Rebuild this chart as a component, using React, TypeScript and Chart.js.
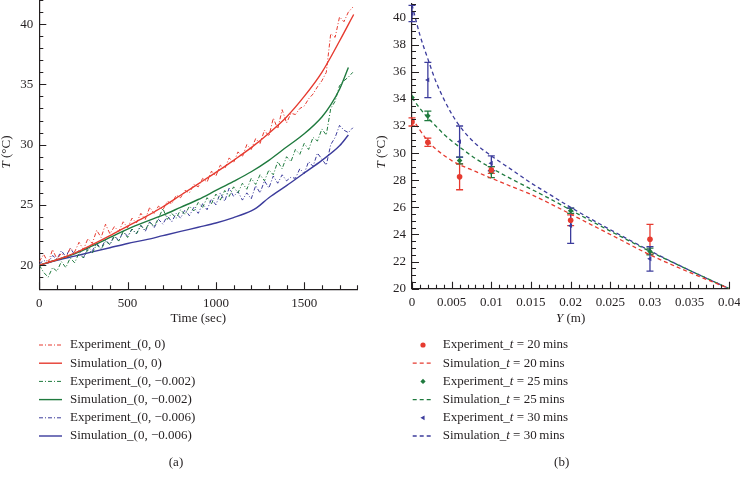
import React, { useEffect, useRef } from "react";
import { Chart, registerables } from "chart.js";

Chart.register(...registerables);

const RED = "#e63b30";
const GREEN = "#1f7a3e";
const BLUE = "#3c3c9c";
const INK = "#231f20";
const FONT = "'Liberation Serif', 'Times New Roman', serif";

// ---------- Panel (a) ----------
const expTime = [0,25,50,75,100,125,150,175,200,225,250,275,300,325,350,375,400,425,450,475,500,525,550,575,600,625,650,675,700,725,750,775,800,825,850,875,900,925,950,975,1000,1025,1050,1075,1100,1125,1150,1175,1200,1225,1250,1275,1300,1325,1350,1375,1400,1425,1450,1475,1500,1525,1550,1575,1600,1625,1650,1675,1700,1725,1750,1775];
const expA_00 = [20.3,20.9,20.2,21.3,20.5,21.0,20.6,21.4,21.1,21.9,21.3,22.2,21.8,22.9,22.3,23.4,22.6,23.2,22.8,23.6,23.1,23.9,23.5,24.3,23.8,24.8,24.3,24.9,24.6,25.3,25.1,25.8,25.6,26.2,26.0,26.7,26.5,27.2,26.9,27.8,27.4,28.3,28.0,28.9,28.5,29.4,29.0,30.0,29.6,30.5,30.1,31.2,30.7,32.2,31.3,32.9,31.8,32.6,32.5,33.0,33.2,33.8,34.2,34.8,35.3,36.0,39.2,38.9,40.6,40.2,41.0,41.4];
const expA_002 = [20.0,19.4,19.0,19.8,19.5,20.3,19.8,20.6,20.2,21.0,20.6,21.3,21.0,21.7,21.3,22.0,21.7,22.4,22.0,22.8,22.3,23.0,22.6,23.3,22.9,23.6,23.2,23.9,24.7,23.8,24.3,23.9,24.6,24.2,24.9,24.5,25.2,24.8,25.6,25.1,25.9,25.4,26.2,25.7,26.5,26.0,26.8,26.3,27.2,26.7,27.5,27.0,27.9,27.5,28.6,28.0,29.0,28.6,29.6,29.2,30.1,29.6,30.6,30.3,31.3,30.8,33.0,33.6,34.9,35.3,35.6,36.0];
const expA_006 = [20.1,20.4,20.2,20.8,20.5,21.2,20.7,21.4,20.9,21.2,20.6,21.5,21.2,21.8,21.4,22.1,21.7,22.5,22.0,22.8,22.4,23.0,22.6,23.3,22.8,23.6,23.1,23.8,23.4,24.1,23.6,24.3,23.9,24.6,24.1,24.8,24.3,25.1,24.6,25.5,25.0,26.0,25.3,26.4,25.7,26.1,25.4,26.0,25.5,26.6,26.0,27.0,26.4,27.4,26.8,27.5,27.0,27.3,27.2,28.0,27.6,28.6,28.2,29.3,28.8,28.3,30.0,30.6,31.6,31.2,31.0,31.4];

const simTimeA_00 = [0,100,200,300,400,500,600,700,800,900,1000,1100,1200,1300,1400,1500,1600,1700,1780];
const simA_00 = [20.0,20.45,21.0,21.7,22.45,23.25,24.0,24.85,25.8,26.75,27.7,28.7,29.75,30.95,32.3,34.0,36.0,38.6,40.8];
const simTimeA_002 = [0,100,200,300,400,500,600,700,800,900,1000,1100,1200,1300,1400,1500,1600,1650,1700,1750];
const simA_002 = [20.0,20.45,20.95,21.6,22.3,23.0,23.6,24.15,24.8,25.45,26.2,26.95,27.75,28.7,29.8,30.9,32.3,33.3,34.6,36.4];
const simTimeA_006 = [0,100,200,300,400,500,600,700,800,900,1000,1100,1200,1230,1300,1400,1500,1600,1700,1750];
const simA_006 = [20.0,20.4,20.75,21.1,21.45,21.8,22.1,22.45,22.8,23.15,23.5,23.95,24.5,24.75,25.6,26.6,27.65,28.7,29.9,30.8];

const labelsA = [
  "Experiment_(0, 0)",
  "Simulation_(0, 0)",
  "Experiment_(0, \u22120.002)",
  "Simulation_(0, \u22120.002)",
  "Experiment_(0, \u22120.006)",
  "Simulation_(0, \u22120.006)",
];
const xTicksA = [0, 500, 1000, 1500];
const yTicksA = [20, 25, 30, 35, 40];

// ---------- Panel (b) ----------
const expY = [0, 0.002, 0.006, 0.01, 0.02, 0.03];
const exp20 = [32.3, 30.8, 28.25, 28.75, 25.05, 23.65];
const err20 = [0.3, 0.3, 0.95, 0.25, 0.4, 1.1];
const exp25 = [34.1, 32.75, 29.45, 28.6, 25.75, 22.75];
const err25 = [0, 0.35, 0.25, 0.4, 0.2, 0.25];
const exp30 = [40.3, 35.4, 30.85, 29.25, 24.65, 22.2];
const err30 = [0.6, 1.3, 1.15, 0.55, 1.3, 0.9];

const simY = [0, 0.001, 0.002, 0.003, 0.004, 0.005, 0.006, 0.008, 0.01, 0.0125, 0.015, 0.0175, 0.02, 0.025, 0.03, 0.035, 0.04];
const sim20 = [32.6, 31.7, 30.9, 30.3, 29.85, 29.45, 29.15, 28.65, 28.15, 27.55, 26.95, 26.25, 25.5, 24.0, 22.5, 21.2, 20.0];
const sim25 = [34.1, 33.3, 32.6, 32.0, 31.4, 30.9, 30.45, 29.6, 28.9, 28.1, 27.35, 26.6, 25.8, 24.25, 22.75, 21.35, 20.0];
const sim30 = [40.95, 38.7, 36.95, 35.3, 34.0, 32.9, 32.0, 30.7, 29.8, 28.8, 27.8, 26.9, 26.0, 24.35, 22.8, 21.35, 20.0];

const labelsB = [
  "Experiment_t = 20\u2009mins",
  "Simulation_t = 20\u2009mins",
  "Experiment_t = 25\u2009mins",
  "Simulation_t = 25\u2009mins",
  "Experiment_t = 30\u2009mins",
  "Simulation_t = 30\u2009mins",
];
const xTicksB = [0, 0.005, 0.01, 0.015, 0.02, 0.025, 0.03, 0.035, 0.04];
const yTicksB = [20, 22, 24, 26, 28, 30, 32, 34, 36, 38, 40];

// ---------- helpers ----------
type Seg = [string, boolean];

function segsOf(text: string): Seg[] {
  const m = text.indexOf("_t =");
  if (m >= 0) return [[text.slice(0, m + 1), false], ["t", true], [text.slice(m + 2), false]];
  return [[text, false]];
}

function drawSegs(ctx: CanvasRenderingContext2D, parts: Seg[], x: number, y: number, size: number, align: "left" | "center") {
  const fN = `${size}px ${FONT}`;
  const fI = `italic ${size}px ${FONT}`;
  let total = 0;
  const ws = parts.map(([t, it]) => {
    ctx.font = it ? fI : fN;
    const w = ctx.measureText(t).width;
    total += w;
    return w;
  });
  let cx = align === "center" ? x - total / 2 : x;
  ctx.textAlign = "left";
  ctx.textBaseline = "middle";
  parts.forEach(([t, it], k) => {
    ctx.font = it ? fI : fN;
    ctx.fillText(t, cx, y);
    cx += ws[k];
  });
}

function drawMarker(ctx: CanvasRenderingContext2D, style: string, x: number, y: number, r: number, color: string) {
  ctx.fillStyle = color;
  ctx.beginPath();
  if (style === "rectRot") {
    ctx.moveTo(x, y - r); ctx.lineTo(x + r, y); ctx.lineTo(x, y + r); ctx.lineTo(x - r, y); ctx.closePath();
  } else if (style === "triangle") {
    ctx.moveTo(x - r, y); ctx.lineTo(x + r * 0.6, y - r * 0.9); ctx.lineTo(x + r * 0.6, y + r * 0.9); ctx.closePath();
  } else {
    ctx.arc(x, y, r, 0, Math.PI * 2);
  }
  ctx.fill();
}

type PanelCfg = {
  xMinor: number; xMajor: number; yMinor: number; yMajor: number;
  xTitle: Seg[]; yTitle: Seg[];
  yTitleX: number; yTitleY: number; xTitleY: number;
  legendX0: number; legendX1: number; legendTextX: number;
  rowY0: number; rowStep: number;
  panelLabel: string; panelLabelX: number; panelLabelY: number;
};

function makePlugin(cfg: PanelCfg) {
  return {
    id: "panelDecor",
    beforeDatasetsDraw(chart: any) {
      const { ctx, chartArea: a, scales } = chart;
      ctx.save();
      ctx.beginPath();
      ctx.rect(a.left - 5, a.top, a.right - a.left + 10, a.bottom - a.top);
      ctx.clip();
      chart.data.datasets.forEach((ds: any) => {
        if (!ds.errors) return;
        ctx.strokeStyle = ds.borderColor;
        ctx.lineWidth = 1.3;
        ds.data.forEach((p: any, i: number) => {
          const e = ds.errors[i];
          if (!e) return;
          const x = scales.x.getPixelForValue(p.x);
          const yt = scales.y.getPixelForValue(p.y + e);
          const yb = scales.y.getPixelForValue(p.y - e);
          ctx.beginPath();
          ctx.moveTo(x, yt); ctx.lineTo(x, yb);
          ctx.moveTo(x - 3.5, yt); ctx.lineTo(x + 3.5, yt);
          ctx.moveTo(x - 3.5, yb); ctx.lineTo(x + 3.5, yb);
          ctx.stroke();
        });
      });
      ctx.restore();
    },
    afterDraw(chart: any) {
      const { ctx, chartArea: a, scales } = chart;
      const xs = scales.x, ys = scales.y;
      ctx.save();
      // inward ticks
      ctx.strokeStyle = INK;
      ctx.lineWidth = 1.1;
      ctx.beginPath();
      const nX = Math.round((xs.max - xs.min) / cfg.xMinor);
      for (let i = 0; i <= nX; i++) {
        const v = xs.min + i * cfg.xMinor;
        const r = v / cfg.xMajor;
        const major = Math.abs(r - Math.round(r)) < 1e-6;
        const px = Math.round(xs.getPixelForValue(v)) + 0.5;
        ctx.moveTo(px, a.bottom);
        ctx.lineTo(px, a.bottom - (major ? 7 : 4));
      }
      const nY = Math.round((ys.max - ys.min) / cfg.yMinor);
      for (let i = 0; i <= nY; i++) {
        const v = ys.min + i * cfg.yMinor;
        const r = v / cfg.yMajor;
        const major = Math.abs(r - Math.round(r)) < 1e-6;
        const py = Math.round(ys.getPixelForValue(v)) + 0.5;
        ctx.moveTo(a.left, py);
        ctx.lineTo(a.left + (major ? 7 : 4), py);
      }
      ctx.stroke();

      // axis titles
      ctx.fillStyle = INK;
      drawSegs(ctx, cfg.xTitle, (a.left + a.right) / 2, cfg.xTitleY, 13, "center");
      ctx.save();
      ctx.translate(cfg.yTitleX, cfg.yTitleY);
      ctx.rotate(-Math.PI / 2);
      drawSegs(ctx, cfg.yTitle, 0, 0, 13, "center");
      ctx.restore();

      // legend
      chart.data.datasets.forEach((ds: any, i: number) => {
        const y = cfg.rowY0 + i * cfg.rowStep;
        if (ds.showLine === false) {
          drawMarker(ctx, ds.pointStyle, (cfg.legendX0 + cfg.legendX1) / 2, y, 2.6, ds.borderColor);
        } else {
          ctx.strokeStyle = ds.borderColor;
          ctx.lineWidth = ds.borderWidth;
          ctx.setLineDash(ds.borderDash || []);
          ctx.beginPath();
          ctx.moveTo(cfg.legendX0, y);
          ctx.lineTo(cfg.legendX1, y);
          ctx.stroke();
          ctx.setLineDash([]);
        }
        ctx.fillStyle = INK;
        drawSegs(ctx, segsOf(ds.label), cfg.legendTextX, y, 13, "left");
      });

      // panel label
      ctx.fillStyle = INK;
      drawSegs(ctx, [[cfg.panelLabel, false]], cfg.panelLabelX, cfg.panelLabelY, 13, "center");
      ctx.restore();
    },
  };
}

const tickFont = { family: FONT, size: 13 };

function axisX(min: number, max: number, ticks: number[], fmt: (v: number) => string) {
  return {
    type: "linear",
    min, max,
    grid: { display: false, drawTicks: false },
    border: { display: true, color: INK, width: 1.2 },
    ticks: { font: tickFont, color: INK, padding: 6, maxRotation: 0, autoSkip: false, callback: (v: any) => fmt(Number(v)) },
    afterBuildTicks: (s: any) => { s.ticks = ticks.map((v) => ({ value: v })); },
    afterFit: (s: any) => { s.height = 20; s.paddingLeft = 0; s.paddingRight = 0; },
  };
}

function axisY(min: number, max: number, ticks: number[], width: number) {
  return {
    type: "linear",
    min, max,
    grid: { display: false, drawTicks: false },
    border: { display: true, color: INK, width: 1.2 },
    ticks: { font: tickFont, color: INK, padding: 6, autoSkip: false, callback: (v: any) => String(v) },
    afterBuildTicks: (s: any) => { s.ticks = ticks.map((v) => ({ value: v })); },
    afterFit: (s: any) => { s.width = width; s.paddingTop = 0; s.paddingBottom = 0; },
  };
}

const xy = (xsArr: number[], ysArr: number[]) => xsArr.map((x, i) => ({ x, y: ysArr[i] }));

function configA(): any {
  const expStyle = (c: string) => ({ borderColor: c, backgroundColor: c, borderWidth: 1, borderDash: [4, 2, 1, 2], pointRadius: 0, tension: 0 });
  const simStyle = (c: string) => ({ borderColor: c, backgroundColor: c, borderWidth: 1.4, pointRadius: 0, cubicInterpolationMode: "monotone" });
  return {
    type: "line",
    data: {
      datasets: [
        { label: labelsA[0], data: xy(expTime, expA_00), ...expStyle(RED) },
        { label: labelsA[1], data: xy(simTimeA_00, simA_00), ...simStyle(RED) },
        { label: labelsA[2], data: xy(expTime, expA_002), ...expStyle(GREEN) },
        { label: labelsA[3], data: xy(simTimeA_002, simA_002), ...simStyle(GREEN) },
        { label: labelsA[4], data: xy(expTime, expA_006), ...expStyle(BLUE) },
        { label: labelsA[5], data: xy(simTimeA_006, simA_006), ...simStyle(BLUE) },
      ],
    },
    options: {
      animation: false,
      responsive: false,
      maintainAspectRatio: false,
      layout: { padding: { left: 0, right: 12.8, top: 0, bottom: 170.7 } },
      plugins: { legend: { display: false }, tooltip: { enabled: false } },
      scales: {
        x: axisX(0, 1800, xTicksA, (v) => String(v)),
        y: axisY(18, 42, yTicksA, 39.3),
      },
    },
    plugins: [
      makePlugin({
        xMinor: 100, xMajor: 500, yMinor: 1, yMajor: 5,
        xTitle: [["Time (sec)", false]],
        yTitle: [["T", true], [" (\u00B0C)", false]],
        yTitleX: 7, yTitleY: 152, xTitleY: 319,
        legendX0: 39, legendX1: 62, legendTextX: 70,
        rowY0: 345, rowStep: 18.2,
        panelLabel: "(a)", panelLabelX: 176, panelLabelY: 463,
      }),
    ],
  };
}

function configB(): any {
  const expStyle = (c: string, ps: string, rot: number) => ({
    borderColor: c, backgroundColor: c, showLine: false, pointStyle: ps, pointRadius: 2.8,
    pointBorderWidth: 0, pointRotation: rot,
  });
  const simStyle = (c: string) => ({ borderColor: c, backgroundColor: c, borderWidth: 1.3, borderDash: [4, 3], pointRadius: 0, cubicInterpolationMode: "monotone" });
  return {
    type: "line",
    data: {
      datasets: [
        { label: labelsB[0], data: xy(expY, exp20), errors: err20, ...expStyle(RED, "circle", 0) },
        { label: labelsB[1], data: xy(simY, sim20), ...simStyle(RED) },
        { label: labelsB[2], data: xy(expY, exp25), errors: err25, ...expStyle(GREEN, "rectRot", 0) },
        { label: labelsB[3], data: xy(simY, sim25), ...simStyle(GREEN) },
        { label: labelsB[4], data: xy(expY, exp30), errors: err30, ...expStyle(BLUE, "triangle", 270) },
        { label: labelsB[5], data: xy(simY, sim30), ...simStyle(BLUE) },
      ],
    },
    options: {
      animation: false,
      responsive: false,
      maintainAspectRatio: false,
      layout: { padding: { left: 0, right: 10.7, top: 0, bottom: 171.3 } },
      plugins: { legend: { display: false }, tooltip: { enabled: false } },
      scales: {
        x: axisX(0, 0.04, xTicksB, (v) => String(Number(v.toFixed(4)))),
        y: axisY(20, 41, yTicksB, 42),
      },
    },
    plugins: [
      makePlugin({
        xMinor: 0.001, xMajor: 0.005, yMinor: 0.5, yMajor: 2,
        xTitle: [["Y", true], [" (m)", false]],
        yTitle: [["T", true], [" (\u00B0C)", false]],
        yTitleX: 12, yTitleY: 152, xTitleY: 319,
        legendX0: 42.7, legendX1: 63.3, legendTextX: 72.7,
        rowY0: 345, rowStep: 18.2,
        panelLabel: "(b)", panelLabelX: 191.7, panelLabelY: 463,
      }),
    ],
  };
}

function Panel({ make, left }: { make: () => any; left: number }) {
  const ref = useRef<HTMLCanvasElement | null>(null);
  useEffect(() => {
    if (!ref.current) return;
    const chart = new Chart(ref.current, make());
    return () => chart.destroy();
  }, []);
  return (
    <canvas
      ref={ref}
      width={370}
      height={480}
      style={{ position: "absolute", left, top: 0, width: 370, height: 480 }}
    />
  );
}

export default function App() {
  return (
    <div style={{ position: "fixed", left: 0, top: 0, width: 740, height: 480, background: "#ffffff", overflow: "hidden" }}>
      <Panel make={configA} left={0} />
      <Panel make={configB} left={370} />
    </div>
  );
}
